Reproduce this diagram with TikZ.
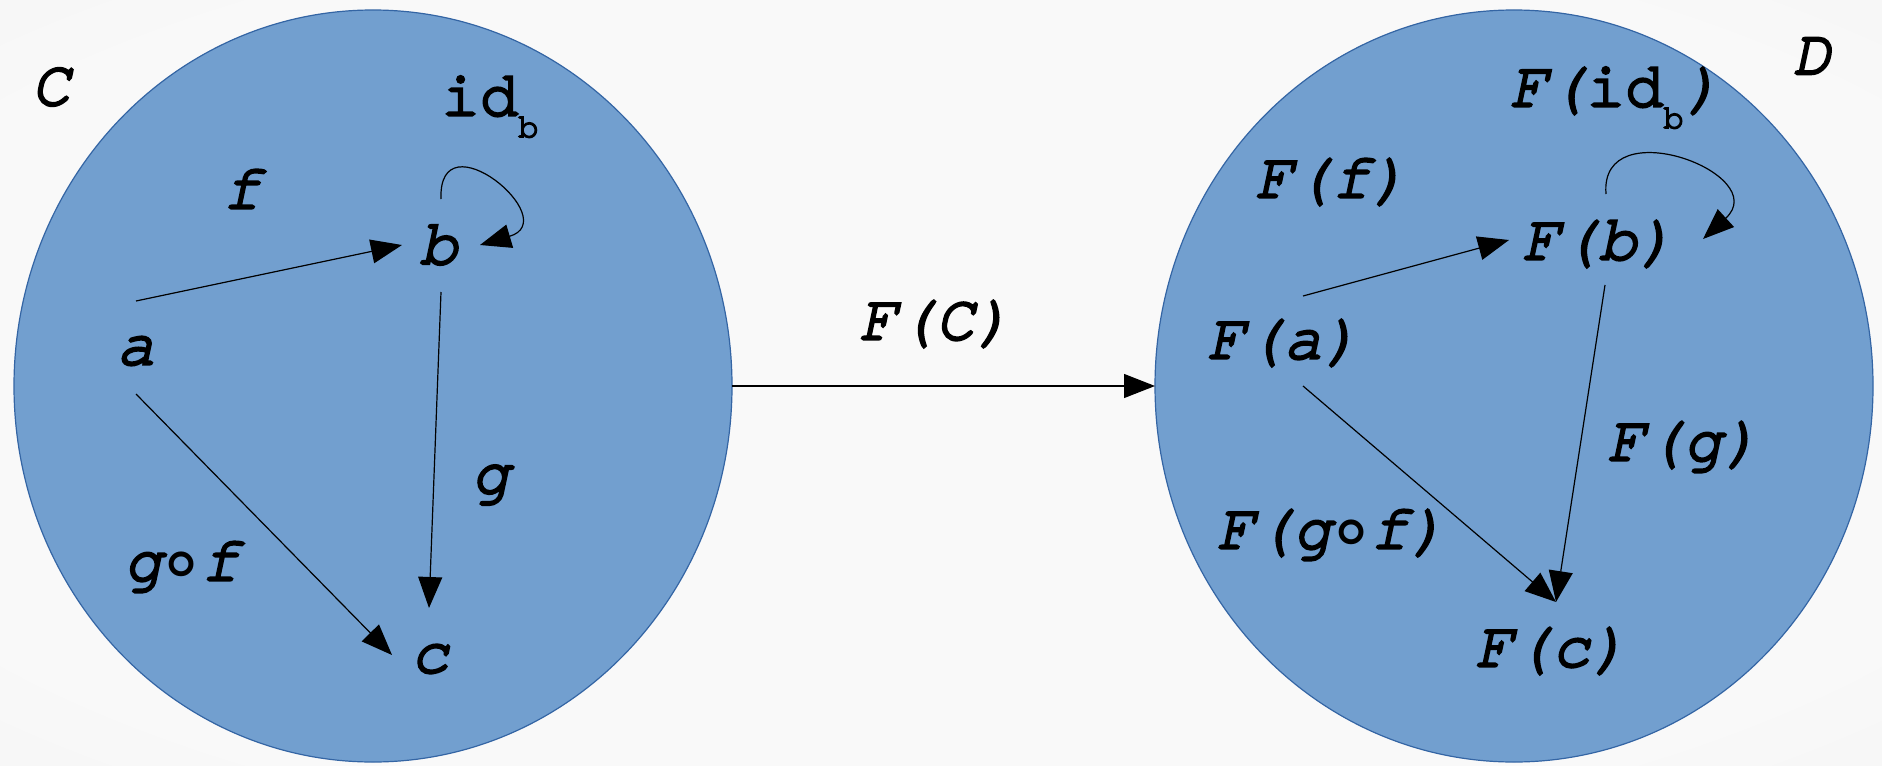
\documentclass[tikz,border=0pt]{standalone}
\usepackage{fontspec}
\newfontfamily\objit{texgyrecursor-italic.otf}[FakeBold=4]
\newfontfamily\objup{texgyrecursor-regular.otf}[FakeBold=4]
\newfontfamily\ringfont{DejaVu Sans}
\usetikzlibrary{arrows.meta,calc,shapes.geometric}
\definecolor{catfill}{HTML}{729FCF}
\definecolor{catline}{HTML}{3465A4}
\definecolor{bgin}{HTML}{F9F9F9}
\definecolor{bgmid}{HTML}{F0F0F0}
\definecolor{bgout}{HTML}{DCDCDC}
\pgfdeclareradialshading{slidebg}{\pgfpoint{0bp}{0bp}}{%
  color(0bp)=(bgin); color(30bp)=(bgin); color(50bp)=(bgmid); color(72bp)=(bgout)}
\newcommand\idsub[1]{\raisebox{-11pt}{\fontsize{17}{18}\selectfont\objup #1}}
\newcommand\idb{{\objup id\idsub{b}}}
\newcommand\cmp{\makebox[0.6em]{\raisebox{-0.14em}{\ringfont\fontsize{40}{40}\selectfont ∘}}}
\tikzset{
  catg/.style={ellipse, fill=catfill, draw=catline, line width=0.6pt,
    minimum width=359pt, minimum height=376pt, inner sep=0pt, outer sep=0pt},
  obj/.style={font=\objit\fontsize{32}{36}\selectfont, inner sep=0pt},
  mor/.style={-{Triangle[length=15.5pt,width=12pt]}, line width=0.6pt}
}

\begin{document}
\begin{tikzpicture}[x=0.5pt,y=-0.5pt]
  \useasboundingbox (0,0) rectangle (1882,765);
  \shade[shading=slidebg] (0,0) rectangle (1882,765);

  % the two categories
  \node[catg] (C) at (373,386) {};
  \node[catg] (D) at (1514,386) {};
  \node[obj] (nC) at (51,87) {C};
  \node[obj] (nD) at (1812,56) {D};

  % objects and morphisms in C
  \node[obj] (a) at (136,351) {a};
  \node[obj] (b) at (439,245) {b};
  \node[obj] (c) at (430,659) {c};
  \node[obj] (lf) at (242,189) {f};
  \node[obj] (lg) at (491,485) {g};
  \node[obj] (lgf) at (182,567) {g\cmp f};
  \node[obj] (lid) at (490,107) {\idb};

  \draw[mor] ($(a)+(0,-50)$) -- ($(b)+(-37,0)$);
  \draw[mor] ($(b)+(2,47)$) -- ($(c)+(-1,-51)$);
  \draw[mor] ($(a)+(0,43)$) -- ($(c)+(-38,-4)$);
  \draw[mor] ($(b)+(2,-46)$) .. controls ($(b)+(-1,-130)$) and ($(b)+(126,-25)$) .. ($(b)+(41,0)$);

  % the functor
  \draw[mor] (C.east) -- (D.west);
  \node[obj] (lF) at (936,324) {F(C)};

  % images in D
  \node[obj] (Fa) at (1284,343) {F(a)};
  \node[obj] (Fb) at (1599,244) {F(b)};
  \node[obj] (Fc) at (1552,651) {F(c)};
  \node[obj] (lFf) at (1332,182) {F(f)};
  \node[obj] (lFg) at (1684,447) {F(g)};
  \node[obj] (lFgf) at (1332,535) {F(g\cmp f)};
  \node[obj] (lFid) at (1616,98) {F(\idb)};

  \draw[mor] ($(Fa)+(19,-47)$) -- ($(Fb)+(-90,-4)$);
  \draw[mor] ($(Fb)+(6,41)$) -- ($(Fc)+(4,-49)$);
  \draw[mor] ($(Fa)+(19,43)$) -- ($(Fc)+(4,-49)$);
  \draw[mor] ($(Fb)+(7,-50)$) .. controls ($(Fb)+(0,-135)$) and ($(Fb)+(175,-70)$) .. ($(Fb)+(104,-5)$);
\end{tikzpicture}
\end{document}
